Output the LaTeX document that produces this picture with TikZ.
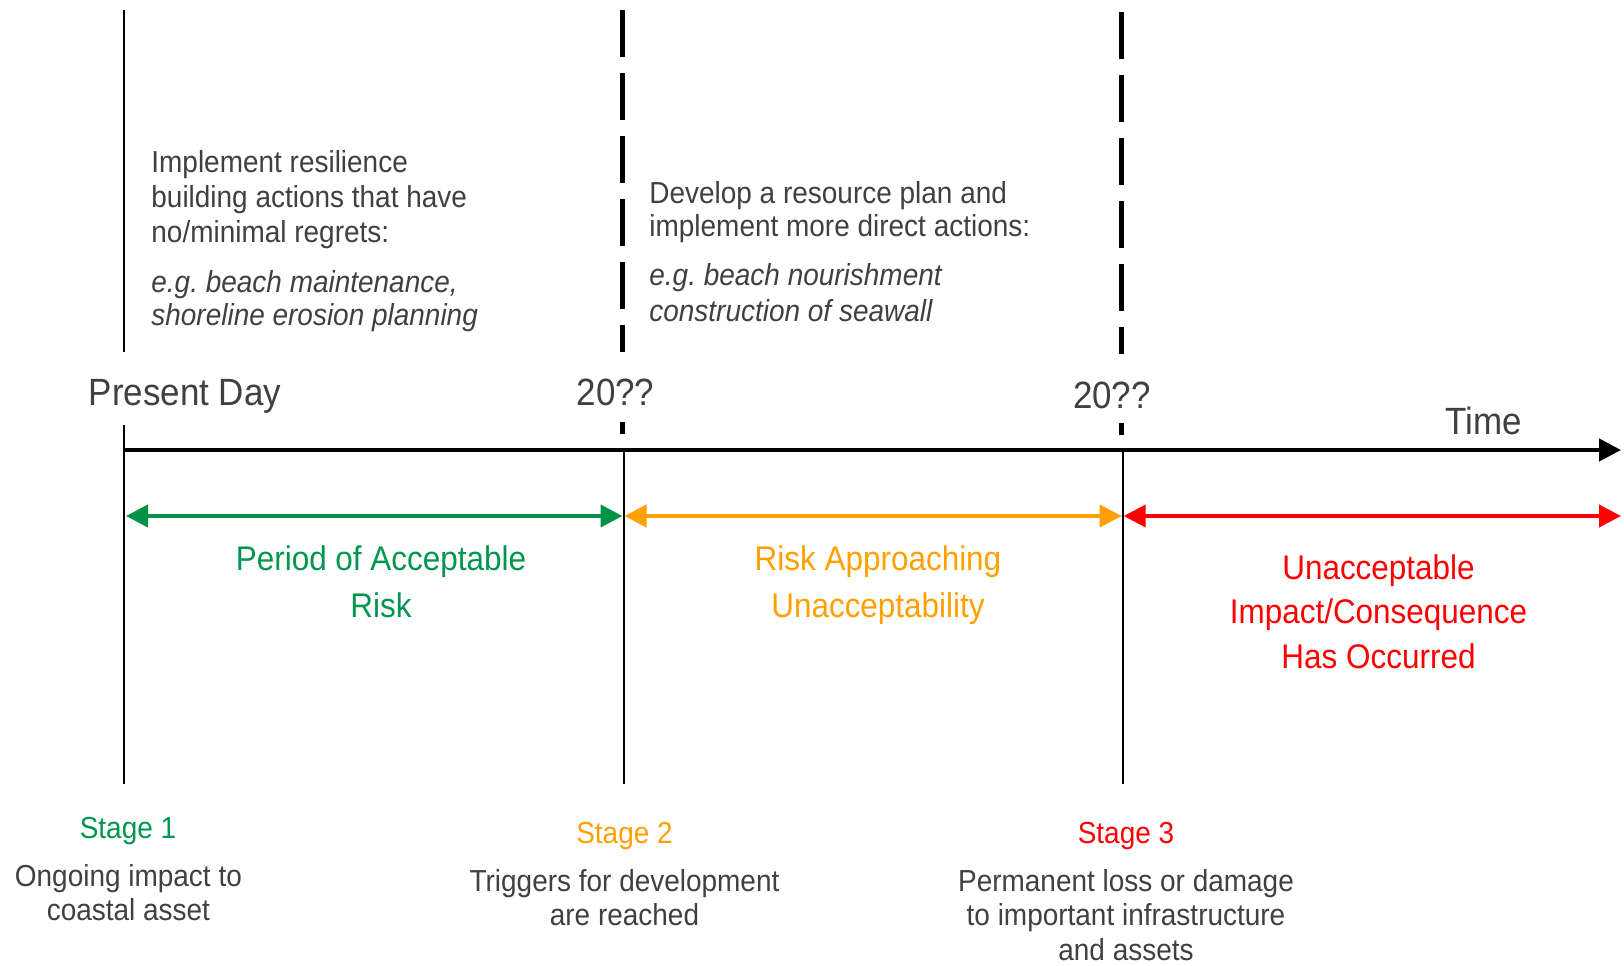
\documentclass[tikz,border=0pt]{standalone}
\usepackage{fontspec}
\setmainfont{Liberation Sans}[FakeStretch=0.92]
\usetikzlibrary{arrows.meta}
\definecolor{txt}{RGB}{64,64,64}
\definecolor{grn}{RGB}{0,146,69}
\definecolor{grntxt}{RGB}{0,150,80}
\definecolor{org}{RGB}{255,160,0}
\definecolor{rd}{RGB}{255,0,0}
\begin{document}
\begin{tikzpicture}[x=0.5pt,y=-0.5pt,
  thinline/.style={black, line width=0.8pt},
  dashline/.style={black, line width=2.5pt, dash pattern=on 23.5pt off 8pt},
  tick/.style={black, line width=2.5pt},
  span/.style={line width=2pt, {Triangle[length=11pt,width=11pt]}-{Triangle[length=11pt,width=11pt]}},
  axisline/.style={black, line width=2.2pt, -{Triangle[length=11pt,width=11pt]}},
  desc/.style={font=\fontsize{15.2}{17.5}\selectfont, text=txt, align=left, inner sep=0pt, anchor=base west},
  big/.style={font=\fontsize{19}{22}\selectfont, text=txt, inner sep=0pt, anchor=base},
  period/.style={font=\fontsize{17.1}{23.5}\selectfont, align=center, inner sep=0pt, anchor=base},
  stagehead/.style={font=\fontsize{15.2}{17}\selectfont, inner sep=0pt, anchor=base},
  stagetext/.style={font=\fontsize{15.2}{17}\selectfont, text=txt, align=center, inner sep=0pt, anchor=base}
]
\useasboundingbox (0,0) rectangle (1624,965);

% coordinates
\coordinate (a0) at (124,450);
\coordinate (aend) at (1621,450);

% vertical lines
\coordinate (pdtop) at (124,10);
\coordinate (pdmid) at (124,352);
\coordinate (pdlow) at (124,425);
\coordinate (pdbot) at (124,784);
\draw[thinline] (pdtop) -- (pdmid);
\draw[thinline] (pdlow) -- (pdbot);

\coordinate (d1top) at (622.5,10);
\coordinate (d1bot) at (622.5,352);
\coordinate (d1t1) at (622.5,422);
\coordinate (d1t2) at (622.5,434);
\coordinate (s2top) at (624,450);
\coordinate (s2bot) at (624,784);
\draw[dashline] (d1top) -- (d1bot);
\draw[tick] (d1t1) -- (d1t2);
\draw[thinline] (s2top) -- (s2bot);

\coordinate (d2top) at (1121.7,12);
\coordinate (d2bot) at (1121.7,354);
\coordinate (d2t1) at (1121.7,423);
\coordinate (d2t2) at (1121.7,435);
\coordinate (s3top) at (1123,450);
\coordinate (s3bot) at (1123,784);
\draw[dashline] (d2top) -- (d2bot);
\draw[tick] (d2t1) -- (d2t2);
\draw[thinline] (s3top) -- (s3bot);

% axis
\draw[axisline] (a0) -- (aend);

% spans
\coordinate (g0) at (126,516);
\coordinate (g1) at (622.5,516);
\coordinate (o0) at (624.5,516);
\coordinate (o1) at (1121.7,516);
\coordinate (r0) at (1123.7,516);
\coordinate (r1) at (1621,516);
\draw[span, grn] (g0) -- (g1);
\draw[span, org] (o0) -- (o1);
\draw[span, rd] (r0) -- (r1);

% axis labels
\node[big] (pd) at (185,405) {Present Day};
\node[big] (y1) at (615.5,405) {20??};
\node[big] (y2) at (1112,408) {20??};
\node[big] (time) at (1484,434) {Time};

% action texts (anchor = baseline of last line)
\node[desc] (act1) at (151,242) {Implement resilience\\building actions that have\\no/minimal regrets:};
\node[desc, font=\fontsize{15.2}{16.5}\itshape] (ex1) at (151,325) {e.g.\ beach maintenance,\\shoreline erosion planning};
\node[desc, font=\fontsize{15.2}{16.5}\selectfont] (act2) at (649,236) {Develop a resource plan and\\implement more direct actions:};
\node[desc, font=\fontsize{15.2}{18}\itshape] (ex2) at (649,321) {e.g.\ beach nourishment\\construction of seawall};

% periods
\node[period, text=grntxt] (p1) at (381,617) {Period of Acceptable\\Risk};
\node[period, text=org] (p2) at (878,617) {Risk Approaching\\Unacceptability};
\node[period, text=rd, font=\fontsize{17.1}{22.25}\selectfont] (p3) at (1378.5,668) {Unacceptable\\Impact/Consequence\\Has Occurred};

% stages
\node[stagehead, text=grntxt] (st1) at (128,838) {Stage 1};
\node[stagetext] (st1t) at (128.4,920) {Ongoing impact to\\coastal asset};
\node[stagehead, text=org] (st2) at (624.5,843) {Stage 2};
\node[stagetext] (st2t) at (624.5,925) {Triggers for development\\are reached};
\node[stagehead, text=rd] (st3) at (1126,843) {Stage 3};
\node[stagetext, font=\fontsize{15.2}{17.25}\selectfont] (st3t) at (1126,960) {Permanent loss or damage\\to important infrastructure\\and assets};
\end{tikzpicture}
\end{document}
